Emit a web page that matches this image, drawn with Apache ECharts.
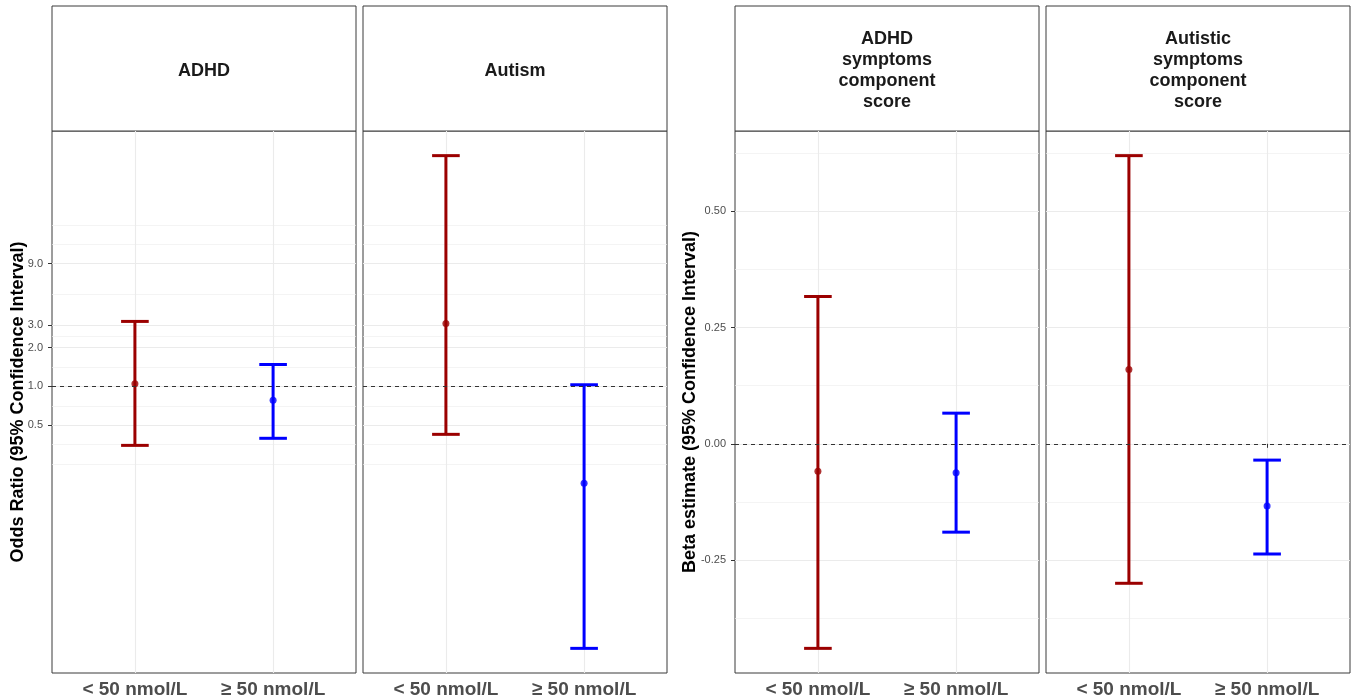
<!DOCTYPE html>
<html>
<head>
<meta charset="utf-8">
<script src="https://cdn.jsdelivr.net/npm/echarts@6/dist/echarts.min.js"></script>
<style>
  html, body { margin: 0; padding: 0; background: #ffffff; }
  #chart { width: 1351px; height: 700px; }
</style>
</head>
<body>
<div id="chart"></div>
<script>
// Vitamin D groups shown on every panel
const groups = ['< 50 nmol/L', '\u2265 50 nmol/L'];
const groupColors = ['#9B0000', '#0000FF'];

// Odds ratios with 95% CI (binary outcomes)
const adhdOR = [1.05, 0.78];
const adhdORLow = [0.348, 0.395];
const adhdORHigh = [3.20, 1.48];
const autismOR = [3.08, 0.177];
const autismORLow = [0.424, 0.0092];
const autismORHigh = [62.2, 1.03];

// Beta estimates with 95% CI (component scores)
const adhdBeta = [-0.059, -0.062];
const adhdBetaLow = [-0.440, -0.190];
const adhdBetaHigh = [0.317, 0.066];
const autBeta = [0.160, -0.134];
const autBetaLow = [-0.300, -0.237];
const autBetaHigh = [0.620, -0.035];

// Labelled y breaks
const orBreaks = [0.5, 1, 2, 3, 9];
const betaBreaks = [-0.25, 0, 0.25, 0.5];

const orTitle = 'Odds Ratio (95% Confidence Interval)';
const betaTitle = 'Beta estimate (95% Confidence Interval)';

// ---- layout ----
const PANEL_W = 304;
const PLOT_TOP = 131;
const PLOT_H = 542;
const STRIP_TOP = 6;
const STRIP_H = 125;
const FONT = '"Liberation Sans", Arial, sans-serif';

const logT = v => Math.log10(v);
const idT = v => v;

const panels = [
  { title: 'ADHD', est: adhdOR, lo: adhdORLow, hi: adhdORHigh, kind: 'or', left: 52, axisShown: true },
  { title: 'Autism', est: autismOR, lo: autismORLow, hi: autismORHigh, kind: 'or', left: 363, axisShown: false },
  { title: 'ADHD\nsymptoms\ncomponent\nscore', est: adhdBeta, lo: adhdBetaLow, hi: adhdBetaHigh, kind: 'beta', left: 735, axisShown: true },
  { title: 'Autistic\nsymptoms\ncomponent\nscore', est: autBeta, lo: autBetaLow, hi: autBetaHigh, kind: 'beta', left: 1046, axisShown: false }
];

const scales = {
  or: { t: logT, breaks: orBreaks, ref: 1, fmt: v => Math.pow(10, v).toFixed(1) },
  beta: { t: idT, breaks: betaBreaks, ref: 0, fmt: v => (Math.abs(v) < 1e-9 ? 0 : v).toFixed(2) }
};

// shared y range per scale: data range padded by 5% on each side
Object.keys(scales).forEach(k => {
  const s = scales[k];
  const vals = [];
  panels.filter(p => p.kind === k).forEach(p => {
    p.lo.forEach(v => vals.push(s.t(v)));
    p.hi.forEach(v => vals.push(s.t(v)));
  });
  const mn = Math.min(...vals), mx = Math.max(...vals);
  const pad = (mx - mn) * 0.05;
  s.lim = [mn - pad, mx + pad];
  s.major = s.breaks.map(s.t);
  // minor breaks halfway between majors, extended one step beyond
  const b = s.major.slice();
  const d = b[1] - b[0];
  if (s.lim[0] < b[0]) b.unshift(b[0] - d);
  if (s.lim[1] > b[b.length - 1]) b.push(b[b.length - 1] + d);
  const minor = [];
  for (let i = 0; i < b.length - 1; i++) minor.push((b[i] + b[i + 1]) / 2);
  minor.push(b[0], b[b.length - 1]);
  s.minor = minor.filter(v => v >= s.lim[0] && v <= s.lim[1] &&
    !s.major.some(m => Math.abs(m - v) < 1e-9));
});

const grids = [], xAxes = [], yAxes = [], series = [], graphics = [];

panels.forEach((p, i) => {
  const s = scales[p.kind];
  grids.push({
    left: p.left, top: PLOT_TOP, width: PANEL_W, height: PLOT_H,
    show: true, backgroundColor: 'transparent', borderColor: '#3a3a3a', borderWidth: 1
  });

  xAxes.push({
    type: 'value', gridIndex: i, min: 0.4, max: 2.6,
    axisLine: { show: false },
    axisTick: { show: true, customValues: [1, 2], length: 4, lineStyle: { color: '#333333' } },
    axisLabel: {
      customValues: [1, 2],
      formatter: v => groups[Math.round(v) - 1],
      fontSize: 19, fontWeight: 'bold', color: '#4D4D4D', margin: 7, fontFamily: FONT
    },
    splitLine: { show: true, lineStyle: { color: '#EBEBEB', width: 1.1 } }
  });

  // major y axis (labels, ticks, major grid)
  yAxes[i] = {
    type: 'value', gridIndex: i, min: s.lim[0], max: s.lim[1],
    axisLine: { show: false },
    axisTick: { show: p.axisShown, customValues: s.major, length: 4, lineStyle: { color: '#333333' } },
    axisLabel: {
      show: p.axisShown, customValues: s.major, formatter: s.fmt,
      fontSize: 11, color: '#4D4D4D', margin: 9, fontFamily: FONT
    },
    splitLine: { show: true, lineStyle: { color: '#EBEBEB', width: 1.1 } }
  };
  // minor y grid
  yAxes[i + panels.length] = {
    type: 'value', gridIndex: i, min: s.lim[0], max: s.lim[1], position: 'left',
    axisLine: { show: false },
    axisTick: { show: false, customValues: s.minor },
    axisLabel: { show: false },
    splitLine: { show: true, lineStyle: { color: '#EFEFEF', width: 0.7 } }
  };

  // dashed reference line (OR = 1, beta = 0)
  series.push({
    type: 'scatter', xAxisIndex: i, yAxisIndex: i, data: [], z: 1, silent: true,
    markLine: {
      silent: true, symbol: 'none', label: { show: false },
      lineStyle: { color: '#333333', type: [4, 4], width: 1 },
      emphasis: { disabled: true },
      data: [{ yAxis: s.t(s.ref) }]
    }
  });

  // confidence interval bars with caps (cap width 0.2 x-units)
  series.push({
    type: 'custom', xAxisIndex: i, yAxisIndex: i, z: 2, silent: true,
    data: groups.map((g, k) => [k + 1, s.t(p.lo[k]), s.t(p.hi[k])]),
    encode: { x: 0, y: [1, 2] },
    renderItem: (params, api) => {
      const x = api.value(0);
      const a = api.coord([x, api.value(1)]);
      const b = api.coord([x, api.value(2)]);
      const half = api.size([0.1, 0])[0];
      const style = { stroke: groupColors[params.dataIndex], lineWidth: 3, fill: null };
      return {
        type: 'group',
        children: [
          { type: 'line', shape: { x1: a[0], y1: a[1], x2: b[0], y2: b[1] }, style },
          { type: 'line', shape: { x1: a[0] - half, y1: a[1], x2: a[0] + half, y2: a[1] }, style },
          { type: 'line', shape: { x1: b[0] - half, y1: b[1], x2: b[0] + half, y2: b[1] }, style }
        ]
      };
    }
  });

  // point estimates
  series.push({
    type: 'scatter', xAxisIndex: i, yAxisIndex: i, z: 3, silent: true,
    symbol: 'circle', symbolSize: 7,
    data: groups.map((g, k) => ({ value: [k + 1, s.t(p.est[k])], itemStyle: { color: groupColors[k] } }))
  });

  // facet strip
  graphics.push({
    type: 'rect', silent: true,
    shape: { x: p.left, y: STRIP_TOP, width: PANEL_W, height: STRIP_H },
    style: { fill: '#ffffff', stroke: '#3a3a3a', lineWidth: 1 }
  });
  graphics.push({
    type: 'text', silent: true,
    x: p.left + PANEL_W / 2, y: STRIP_TOP + STRIP_H / 2 + 2.5,
    style: {
      text: p.title, align: 'center', verticalAlign: 'middle',
      fontSize: 18, fontWeight: 'bold', fontFamily: FONT, fill: '#1A1A1A', lineHeight: 21
    }
  });
});

// y axis titles
[[orTitle, 18], [betaTitle, 690]].forEach(([txt, x]) => {
  graphics.push({
    type: 'text', silent: true, x: x, y: PLOT_TOP + PLOT_H / 2, rotation: Math.PI / 2,
    style: {
      text: txt, align: 'center', verticalAlign: 'middle',
      fontSize: 18, fontWeight: 'bold', fontFamily: FONT, fill: '#000000'
    }
  });
});

const chart = echarts.init(document.getElementById('chart'), null, { renderer: 'canvas' });
chart.setOption({
  animation: false,
  backgroundColor: '#ffffff',
  textStyle: { fontFamily: FONT },
  grid: grids,
  xAxis: xAxes,
  yAxis: yAxes,
  series: series,
  graphic: graphics
});
</script>
</body>
</html>
